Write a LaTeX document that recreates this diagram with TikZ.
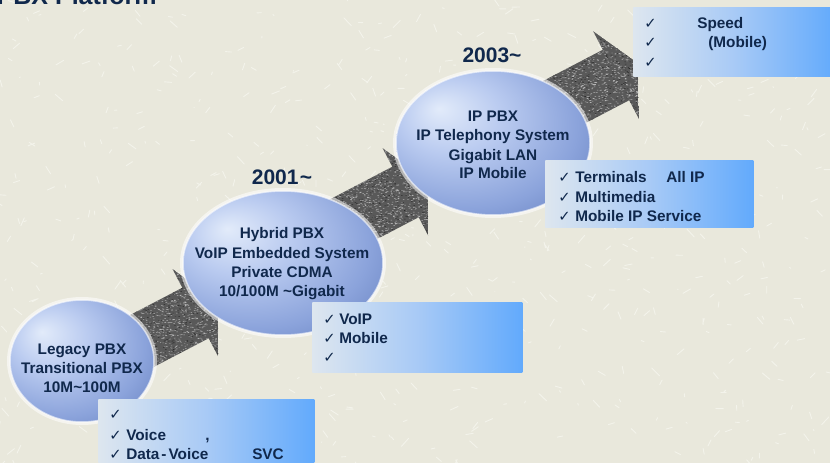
\documentclass[tikz,border=0pt]{standalone}
\usepackage{fontspec}
\setmainfont{Liberation Sans}
\newfontfamily\tickfont{DejaVu Sans}
\usetikzlibrary{shapes.geometric}

\definecolor{paper}{HTML}{E9E8DC}
\definecolor{paperstreak}{HTML}{F6F6EF}
\definecolor{inkblue}{HTML}{10284C}
\definecolor{granite}{HTML}{595959}
\definecolor{graniteLight}{HTML}{B4B4B4}
\definecolor{graniteDark}{HTML}{2A2A2A}
\definecolor{orbA}{HTML}{E2EBFA}
\definecolor{orbB}{HTML}{BACBF0}
\definecolor{orbC}{HTML}{8BA3DB}
\definecolor{orbD}{HTML}{5C77B8}
\definecolor{orbE}{HTML}{344D8C}
\definecolor{cardA}{HTML}{FCFCEA}
\definecolor{cardB}{HTML}{DDE6EF}
\definecolor{cardC}{HTML}{A8CAF6}
\definecolor{cardD}{HTML}{62AAFC}
\definecolor{cardE}{HTML}{3399FF}

\pgfdeclareradialshading{orbfill}{\pgfpoint{-14bp}{12bp}}{color(0bp)=(orbA); color(13bp)=(orbB); color(29bp)=(orbC); color(44bp)=(orbD); color(60bp)=(orbE)}
\pgfdeclarehorizontalshading{cardfade}{100bp}{color(0bp)=(cardA); color(25bp)=(cardB); color(50bp)=(cardC); color(75bp)=(cardD); color(100bp)=(cardE)}

% one pixel of the drawing grid
\newcommand{\px}{0.75pt}

% outline of a block arrow in its own frame (along, across)
\newcommand{\arrowoutline}{(-125,-28.5) -- (0,-28.5) -- (0,-49.5) -- (25,0) -- (0,49.5) -- (0,28.5) -- (-125,28.5) -- cycle}

% grainy block arrow; #1,#2 = centre of the barb line, #3 = random seed
\newcommand{\granitearrow}[3]{%
  \begin{scope}[shift={(#1,#2)}, x={(0.886*\px,0.463*\px)}, y={(0.463*\px,-0.886*\px)}]
    \begin{scope}
      \clip \arrowoutline;
      \fill[granite] \arrowoutline;
      \pgfmathsetseed{#3}
      \fill[graniteLight] \foreach \k in {1,...,1800}{({-100+127*rnd},{-51+102*rnd}) rectangle ++(1.1,1.1)};
      \fill[graniteDark] \foreach \k in {1,...,600}{({-100+127*rnd},{-51+102*rnd}) rectangle ++(1.1,1.1)};
    \end{scope}
  \end{scope}}

\tikzset{
  orbglow/.style={ellipse, inner sep=0pt, fill=white, fill opacity=0.55},
  orb/.style={ellipse, inner sep=0pt, shading=orbfill, draw=white, draw opacity=0.6, line width=1.5*\px},
  card/.style={rectangle, inner sep=0pt, anchor=north west, shading=cardfade},
  orbtxt/.style={font=\fontsize{11.5}{13}\selectfont\bfseries, text=inkblue, inner sep=0pt, anchor=base},
  itemtxt/.style={orbtxt, anchor=base west},
  tick/.style={font=\tickfont\fontsize{11}{13}\selectfont, text=inkblue, inner sep=0pt, anchor=base west},
  yeartxt/.style={font=\fontsize{15.75}{18}\selectfont\bfseries, text=inkblue, inner sep=0pt, anchor=base},
  titletxt/.style={font=\fontsize{18.75}{22}\selectfont\bfseries, text=inkblue, inner sep=0pt, anchor=base west},
  streak/.style={draw=paperstreak, line width=0.9*\px, line cap=round, opacity=0.8}
}

\begin{document}
\begin{tikzpicture}[x=\px, y=-\px]
  \useasboundingbox (0,0) rectangle (830,463);
  \clip (0,0) rectangle (830,463);

  % textured paper
  \fill[paper] (0,0) rectangle (830,463);
  \pgfmathsetseed{11}
  \draw[streak] \foreach \k in {1,...,650}{({830*rnd},{463*rnd}) -- ++({16*rnd-8},{16*rnd-8})};

  % page heading, mostly above the visible area
  \node[titletxt] (heading) at (-3.5,5) {PBX Platform};

  % evolution arrows
  \granitearrow{195.5}{313}{3}
  \granitearrow{405.5}{192}{5}
  \granitearrow{616}{75}{9}

  % generations: soft white rim, then the shaded disc
  \node[orbglow, minimum width=150*\px, minimum height=128*\px] (legacyRim) at (82,361) {};
  \node[orbglow, minimum width=206*\px, minimum height=150*\px] (hybridRim) at (283,263) {};
  \node[orbglow, minimum width=200*\px, minimum height=150*\px] (ippbxRim) at (493,143) {};
  \node[orb, minimum width=144*\px, minimum height=122*\px] (legacy) at (82,361) {};
  \node[orb, minimum width=200*\px, minimum height=144*\px] (hybrid) at (283,263) {};
  \node[orb, minimum width=194*\px, minimum height=144*\px] (ippbx) at (493,143) {};

  \node[orbtxt] (legacyA) at (82,354.5) {Legacy PBX};
  \node[orbtxt] (legacyB) at (82,373.5) {Transitional PBX};
  \node[orbtxt] (legacyC) at (82,392.5) {10M\textasciitilde 100M};

  \node[orbtxt] (hybridA) at (282,238.5) {Hybrid PBX};
  \node[orbtxt] (hybridB) at (282,258) {VoIP Embedded System};
  \node[orbtxt] (hybridC) at (282,277.5) {Private CDMA};
  \node[orbtxt] (hybridD) at (282,296.5) {10/100M \textasciitilde Gigabit};

  \node[orbtxt] (ippbxA) at (493,121.5) {IP PBX};
  \node[orbtxt] (ippbxB) at (493,141) {IP Telephony System};
  \node[orbtxt] (ippbxC) at (493,160.5) {Gigabit LAN};
  \node[orbtxt] (ippbxD) at (493,179) {IP Mobile};

  \node[yeartxt] (yr2001) at (282,185) {2001\kern1pt\textasciitilde};
  \node[yeartxt] (yr2003) at (492,63) {2003\textasciitilde};

  % feature cards
  \node[card, minimum width=216*\px, minimum height=71*\px] (cardLegacy) at (98,399) {};
  \node[card, minimum width=210*\px, minimum height=70*\px] (cardHybrid) at (312,302) {};
  \node[card, minimum width=208*\px, minimum height=67*\px] (cardIP) at (545,160) {};
  \node[card, minimum width=202*\px, minimum height=69*\px] (cardNext) at (633,7) {};

  \node[tick] (tA1) at (109,419) {✓};
  \node[tick] (tA2) at (109,440) {✓};
  \node[tick] (tA3) at (109,459) {✓};
  \node[itemtxt] (iA2) at (126,440) {Voice};
  \node[itemtxt] (iA2b) at (205,440) {,};
  \node[itemtxt] (iA3) at (126,459) {Data\kern1.5pt-\kern1.5pt Voice};
  \node[itemtxt] (iA3b) at (252,459) {SVC};

  \node[tick] (tB1) at (323,324.5) {✓};
  \node[tick] (tB2) at (323,343.5) {✓};
  \node[tick] (tB3) at (323,362.5) {✓};
  \node[itemtxt] (iB1) at (339,324.5) {VoIP};
  \node[itemtxt] (iB2) at (339,343.5) {Mobile};

  \node[tick] (tC1) at (558,182.5) {✓};
  \node[tick] (tC2) at (558,202) {✓};
  \node[tick] (tC3) at (558,221.5) {✓};
  \node[itemtxt] (iC1) at (575,182.5) {Terminals};
  \node[itemtxt] (iC1b) at (666,182.5) {All IP};
  \node[itemtxt] (iC2) at (575,202) {Multimedia};
  \node[itemtxt] (iC3) at (575,221.5) {Mobile IP Service};

  \node[tick] (tD1) at (644,28.5) {✓};
  \node[tick] (tD2) at (644,48) {✓};
  \node[tick] (tD3) at (644,67.5) {✓};
  \node[itemtxt] (iD1) at (697,28.5) {Speed};
  \node[itemtxt] (iD2) at (708,48) {(Mobile)};
\end{tikzpicture}
\end{document}
